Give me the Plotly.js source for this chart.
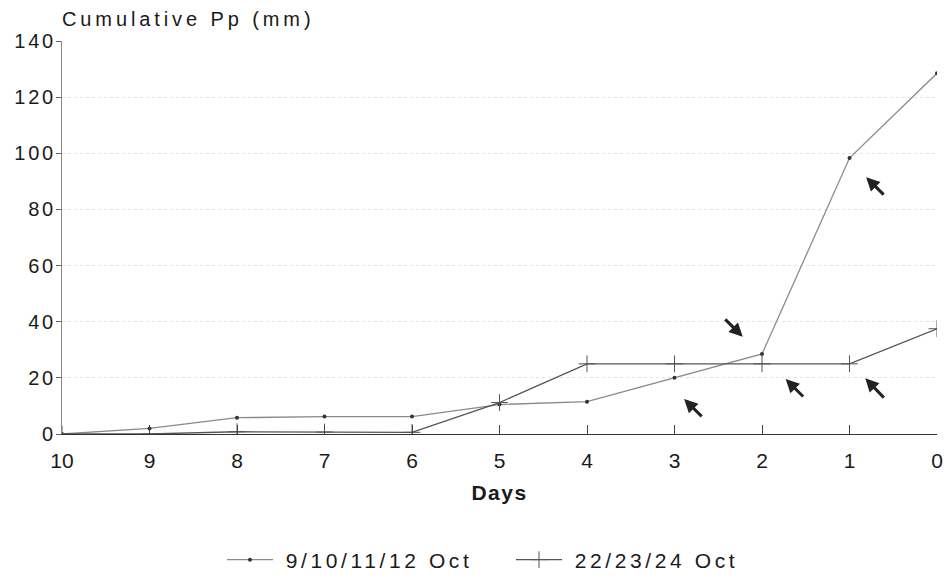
<!DOCTYPE html>
<html>
<head>
<meta charset="utf-8">
<script src="https://cdn.plot.ly/plotly-3.0.1.min.js"></script>
<style>
html,body{margin:0;padding:0;background:#fff;}
#chart{width:945px;height:577px;}
.gtitle{letter-spacing:3.9px;}
.legendtext{letter-spacing:3.6px;}
.ytick text{letter-spacing:2.8px;}
.xtitle{letter-spacing:1.5px;}
</style>
</head>
<body>
<div id="chart"></div>
<script>
// Data
const days = [10, 9, 8, 7, 6, 5, 4, 3, 2, 1, 0];
const seriesOctEarlyName = "9/10/11/12 Oct";
const seriesOctEarly = [0, 2, 5.8, 6.2, 6.2, 10.5, 11.5, 20, 28.5, 98.3, 128.5];
const seriesOctLateName = "22/23/24 Oct";
const seriesOctLate = [0, 0, 0.8, 0.7, 0.6, 11.2, 25, 25, 25, 25, 37.5];
const yTicks = [0, 20, 40, 60, 80, 100, 120, 140];
const xTicks = [10, 9, 8, 7, 6, 5, 4, 3, 2, 1, 0];
// Arrow annotations: [day, value] of the arrow head
const arrowHeads = [[0.81, 91.5], [2.22, 34.6], [2.89, 12.5], [1.73, 19.6], [0.82, 19.9]];
const arrowTails = [[19, 19], [-19, -19], [19, 19], [19, 19], [20, 21]];

const font = "Liberation Sans, Arial, sans-serif";
const lead = "\u2009";

const traces = [
  {
    x: days, y: seriesOctEarly, name: lead + seriesOctEarlyName, type: "scatter", mode: "lines+markers",
    line: {color: "#8a8a8a", width: 1.3},
    marker: {symbol: "circle", size: 4, color: "#333"}
  },
  {
    x: days, y: seriesOctLate, name: lead + seriesOctLateName, type: "scatter", mode: "lines+markers",
    line: {color: "#555", width: 1.3},
    marker: {symbol: "cross-thin", size: 12, color: "#555", line: {color: "#555", width: 1}}
  }
];

const annotations = arrowHeads.map((h, i) => ({
  x: h[0], y: h[1], xref: "x", yref: "y",
  ax: arrowTails[i][0], ay: arrowTails[i][1],
  showarrow: true, arrowhead: 2, arrowsize: 0.9, arrowwidth: 3, arrowcolor: "#222", text: ""
}));

const layout = {
  width: 945, height: 577,
  margin: {l: 62, r: 8, t: 41, b: 143, autoexpand: false},
  paper_bgcolor: "#fff", plot_bgcolor: "#fff",
  font: {family: font, size: 20, color: "#1a1a1a"},
  title: {
    text: "Cumulative Pp (mm)", xref: "container", yref: "container",
    x: 62 / 945, xanchor: "left", y: 1 - 19 / 577, yanchor: "middle",
    font: {family: font, size: 20, color: "#1a1a1a"}
  },
  xaxis: {
    range: [10, 0], tickvals: xTicks, ticktext: xTicks.map(String),
    ticks: "inside", ticklen: 9, tickcolor: "#444", tickwidth: 1,
    showline: true, linecolor: "#333", linewidth: 1, showgrid: false, zeroline: false,
    tickfont: {family: font, size: 21, color: "#1a1a1a"}, ticklabelstandoff: 8, automargin: false,
    title: {text: "<b>Days</b>", font: {family: font, size: 21, color: "#1a1a1a"}, standoff: 14}
  },
  yaxis: {
    range: [0, 140], tickvals: yTicks, ticktext: yTicks.map(String),
    ticks: "outside", ticklen: 5, tickcolor: "#666", tickwidth: 1,
    showline: true, linecolor: "#888", linewidth: 1, automargin: false,
    showgrid: true, gridcolor: "#e2e2e2", griddash: "dot", gridwidth: 1, zeroline: false,
    tickfont: {family: font, size: 20, color: "#1a1a1a"}, ticklabelstandoff: -4
  },
  showlegend: true,
  legend: {
    orientation: "h", xref: "container", yref: "container",
    x: 222 / 945, xanchor: "left", y: 1 - 560 / 577, yanchor: "middle",
    font: {family: font, size: 21, color: "#1a1a1a"}, itemwidth: 46, entrywidth: 228, tracegroupgap: 0
  },
  annotations: annotations
};

Plotly.newPlot("chart", traces, layout, {displayModeBar: false, staticPlot: true});
</script>
</body>
</html>
